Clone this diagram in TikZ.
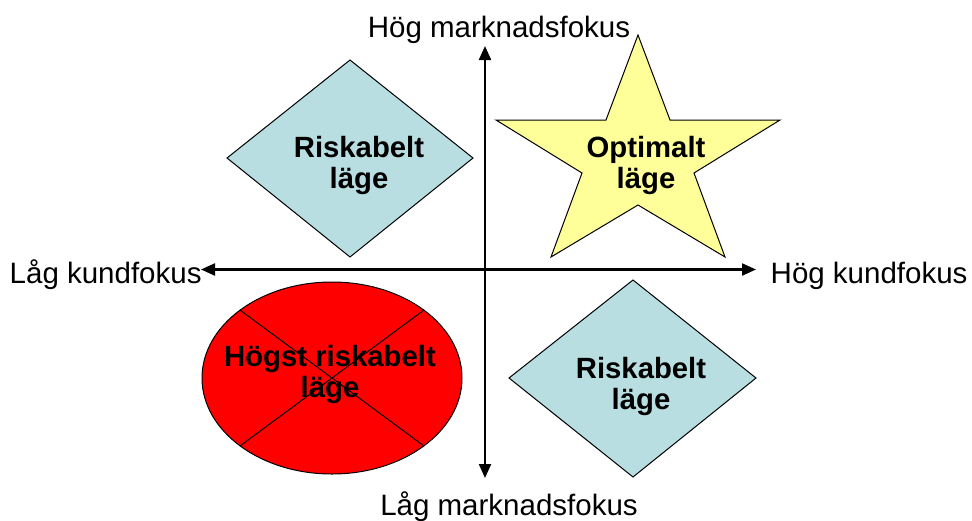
\documentclass[tikz,border=0pt]{standalone}
\usepackage{fontspec}
\setmainfont{Liberation Sans}
\usetikzlibrary{arrows.meta}
\definecolor{riskblue}{RGB}{184,222,225}
\definecolor{staryellow}{RGB}{255,255,153}
\definecolor{alarmred}{RGB}{255,0,0}
\tikzset{
  axislabel/.style={inner sep=0pt, font=\fontsize{29.5}{31}\selectfont},
  boldlabel/.style={inner sep=0pt, align=center, font=\fontsize{29.3}{31}\selectfont\bfseries},
  shapeline/.style={draw=black, line width=1pt, line join=miter},
  crossline/.style={line width=1pt},
  axisline/.style={line width=2.2pt, -{Triangle[length=14pt,width=12pt]}}
}
\begin{document}
\begin{tikzpicture}[x=1pt,y=-1pt]
\useasboundingbox (0,0) rectangle (972,520);

% upper-left diamond
\draw[shapeline, fill=riskblue] (350,60) -- (473,158) -- (350,257) -- (227,158) -- cycle;
\node[boldlabel] (ul) at (359,165) {Riskabelt\\läge};

% lower-right diamond
\draw[shapeline, fill=riskblue] (633,280) -- (756,378) -- (633,477) -- (509,378) -- cycle;
\node[boldlabel] (lr) at (641,386) {Riskabelt\\läge};

% star
\draw[shapeline, fill=staryellow]
  (638,35) -- (670,120) -- (780,120) -- (694,173) -- (725,257)
  -- (638,205) -- (551,257) -- (582,173) -- (496,120) -- (606,120) -- cycle;
\node[boldlabel] (st) at (646,165) {Optimalt\\läge};

% crossed-out ellipse
\coordinate (ec) at (332,378);
\draw[shapeline, fill=alarmred] (ec) ellipse [x radius=130, y radius=96];
\draw[crossline] (ec) ++(-91.9,-67.9) -- ++(183.8,135.8);
\draw[crossline] (ec) ++(91.9,-67.9) -- ++(-183.8,135.8);
\node[boldlabel] (el) at (330,374) {Högst riskabelt\\läge};

% axes
\coordinate (c) at (485,269.5);
\coordinate (top) at (485,46);
\coordinate (bot) at (485,478);
\coordinate (lft) at (201,269.5);
\coordinate (rgt) at (756,269.5);
\draw[axisline] (c) -- (top);
\draw[axisline] (c) -- (bot);
\draw[axisline] (c) -- (lft);
\draw[axisline] (c) -- (rgt);

% axis labels
\node[axislabel, anchor=base] (hm) at (499,37) {Hög marknadsfokus};
\node[axislabel, anchor=base] (lm) at (509,515) {Låg marknadsfokus};
\node[axislabel, anchor=base west] (lk) at (9.5,283.3) {Låg kundfokus};
\node[axislabel, anchor=base west] (hk) at (770.5,283.3) {Hög kundfokus};
\end{tikzpicture}
\end{document}
